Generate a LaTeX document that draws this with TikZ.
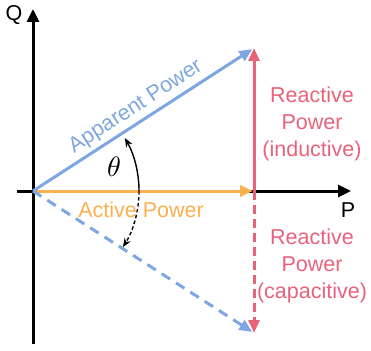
\documentclass[tikz,border=0pt]{standalone}
\usepackage{fontspec}
\setmainfont{Liberation Sans}
\usetikzlibrary{arrows.meta}
\definecolor{appblue}{HTML}{7EA6E0}
\definecolor{actorange}{HTML}{FBB04F}
\definecolor{reacred}{HTML}{E8637A}
\tikzset{
  vec/.style={line width=3pt,-{Triangle[length=13pt,width=11pt]}},
  axisline/.style={line width=3pt,black,-{Triangle[length=13pt,width=12pt]}},
  anglearc/.style={line width=1.4pt,black,-{Stealth[length=9pt,width=7pt]}},
  lbl/.style={font=\fontsize{21.5}{27}\selectfont,inner sep=0pt,align=center},
}
\begin{document}
\begin{tikzpicture}[x=1pt,y=-1pt]
\useasboundingbox (0,0) rectangle (371,350);
\coordinate (O) at (33,191);
\coordinate (XL) at (17,191);
\coordinate (XR) at (351,191);
\coordinate (YB) at (33,344);
\coordinate (YT) at (33,9);
\coordinate (S) at (254,48);
\coordinate (Pe) at (254,191);
\coordinate (Pb) at (254,199);
\coordinate (C) at (254,333);
% axes
\draw[axisline] (YB) -- (YT);
\draw[axisline] (XL) -- (XR);
\node[lbl] (Q) at (14,15) {Q};
\node[lbl] (P) at (348,210) {P};
% reactive
\draw[line width=3pt,reacred,dash pattern=on 9pt off 5pt,-{Triangle[length=13pt,width=11pt]}] (Pe) -- (C);
\draw[vec,reacred] (Pb) -- (S);
% active
\draw[vec,actorange,shorten >=1pt] (O) -- (Pe);
% apparent
\draw[vec,appblue,shorten >=2pt] (O) -- (S);
\draw[vec,appblue,dash pattern=on 10pt off 7pt,shorten >=2pt] (O) -- (C);
% angles
\draw[anglearc] (139,191) arc[start angle=0,end angle=-30,radius=106];
\draw[anglearc,dash pattern=on 3.5pt off 2.5pt] (139,191) arc[start angle=0,end angle=32,radius=106];
\node[inner sep=0pt] (th) at (114,167) {\scalebox{2.8}{$\theta$}};
% labels
\node[lbl,text=appblue,rotate=33] (ap) at (136,107) {Apparent Power};
\node[lbl,text=actorange] (ac) at (141,210) {Active Power};
\node[lbl,text=reacred] (ri) at (312,124) {Reactive\\Power\\(inductive)};
\node[lbl,text=reacred] (rc) at (312,266) {Reactive\\Power\\(capacitive)};
\end{tikzpicture}
\end{document}
